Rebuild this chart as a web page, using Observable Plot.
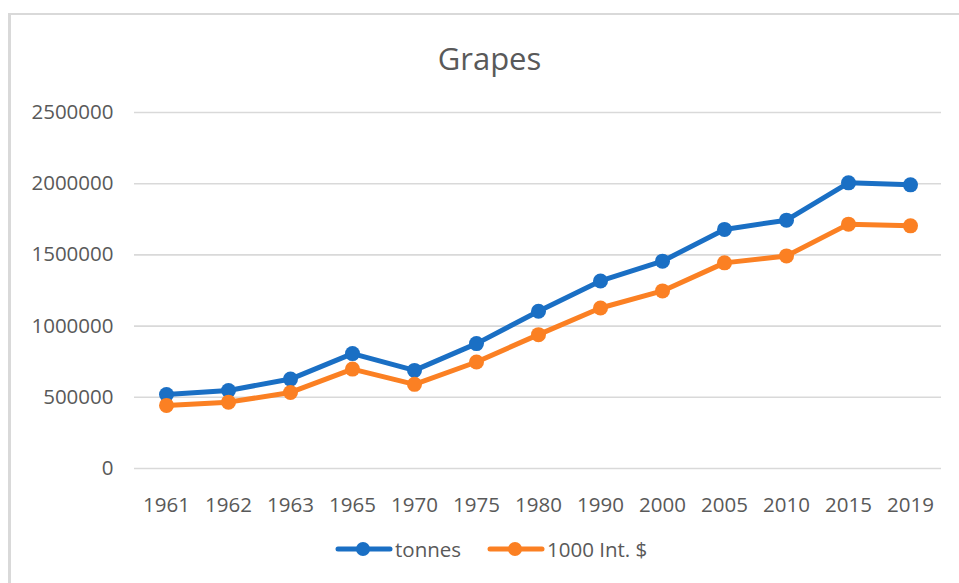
<!DOCTYPE html>
<html>
<head>
<meta charset="utf-8">
<script src="https://cdn.jsdelivr.net/npm/d3@7"></script>
<script src="https://cdn.jsdelivr.net/npm/@observablehq/plot@0.6"></script>
<style>
  html, body { margin: 0; padding: 0; background: #fff; }
  #wrap { position: relative; width: 959px; height: 583px; overflow: hidden; font-family: "Open Sans", sans-serif; color: #595959; }
  #bl { position: absolute; left: 8px; top: 13px; width: 3px; height: 600px; background: #d9d9d9; }
  #bt { position: absolute; left: 8px; top: 13px; width: 960px; height: 2px; background: #d9d9d9; }
  #title { position: absolute; left: 0; width: 979px; top: 36px; text-align: center; font-size: 31px; line-height: 44px; }
  #chart { position: absolute; left: 0; top: 0; }
  #legend { position: absolute; top: 534px; left: 0; width: 959px; height: 30px; }
  .item { position: absolute; top: 0; height: 30px; display: flex; align-items: center; font-size: 20.5px; }
  .item svg { display: block; }
</style>
</head>
<body>
<div id="wrap">
  <div id="bl"></div>
  <div id="bt"></div>
  <div id="title">Grapes</div>
  <div id="chart"></div>
  <div id="legend"></div>
</div>
<script>
const years = ["1961","1962","1963","1965","1970","1975","1980","1990","2000","2005","2010","2015","2019"];
const tonnes = [520000, 548000, 628000, 807000, 689000, 877000, 1104000, 1317000, 1456000, 1679000, 1744000, 2006000, 1992000];
const intDollars = [443000, 466000, 534000, 698000, 591000, 748000, 940000, 1127000, 1247000, 1444000, 1493000, 1716000, 1704000];
const seriesNames = ["tonnes", "1000 Int. $"];
const seriesColors = ["#1a6fc4", "#fb8023"];
const yTicks = [0, 500000, 1000000, 1500000, 2000000, 2500000];

const rows = [];
years.forEach((y, i) => rows.push({year: y, value: tonnes[i], series: seriesNames[0]}));
years.forEach((y, i) => rows.push({year: y, value: intDollars[i], series: seriesNames[1]}));

const plot = Plot.plot({
  width: 959,
  height: 583,
  marginLeft: 134,
  marginRight: 18,
  marginTop: 112,
  marginBottom: 115,
  style: {fontFamily: "Open Sans, sans-serif", fontSize: "20.5px", color: "#595959", background: "transparent", overflow: "visible"},
  x: {type: "point", domain: years, padding: 0.5, label: null},
  y: {domain: [0, 2500000], label: null},
  color: {domain: seriesNames, range: seriesColors},
  marks: [
    Plot.ruleY(yTicks, {stroke: "#d9d9d9", strokeWidth: 1.6, strokeOpacity: 1}),
    Plot.axisY({ticks: yTicks, tickSize: 0, tickPadding: 21, tickFormat: d => String(d), label: null, fill: "#595959"}),
    Plot.axisX({tickSize: 0, tickPadding: 29, label: null, fill: "#595959"}),
    Plot.line(rows, {x: "year", y: "value", z: "series", stroke: "series", strokeWidth: 5, strokeLinejoin: "round", strokeLinecap: "round"}),
    Plot.dot(rows, {x: "year", y: "value", fill: "series", r: 7.5, stroke: null})
  ]
});
document.getElementById("chart").appendChild(plot);

// legend
const legend = document.getElementById("legend");
const legendX = [335, 487];
seriesNames.forEach((name, i) => {
  const item = document.createElement("div");
  item.className = "item";
  item.style.left = legendX[i] + "px";
  const c = seriesColors[i];
  item.innerHTML = `<svg width="60" height="30"><line x1="3" y1="15" x2="55" y2="15" stroke="${c}" stroke-width="5" stroke-linecap="round"/><circle cx="28" cy="15" r="7" fill="${c}"/></svg><span></span>`;
  item.querySelector("span").textContent = name;
  legend.appendChild(item);
});
</script>
</body>
</html>
